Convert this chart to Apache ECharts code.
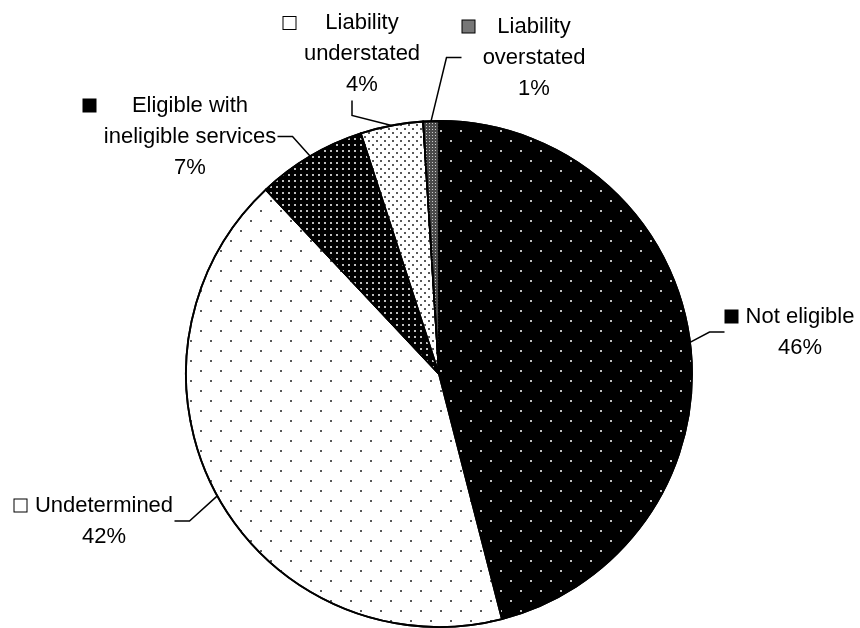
<!DOCTYPE html>
<html><head><meta charset="utf-8">
<script src="https://cdn.jsdelivr.net/npm/echarts@6/dist/echarts.min.js"></script>
<style>html,body{margin:0;padding:0;background:#fff}#c{width:860px;height:628px}</style>
</head><body><div id="c"></div>
<script>
// ---- data ----
const categories = ['Not eligible', 'Undetermined', 'Eligible with\nineligible services', 'Liability\nunderstated', 'Liability\noverstated'];
const values = [46, 42, 7, 4, 1];
// label block centres (text centre x, block middle y)
const labelCenters = [[800, 332], [104, 521], [190, 136.5], [362, 54], [534, 57.5]];

// ---- styles ----
const FONT = '"Liberation Sans", Arial, sans-serif';
const FS = 22, LH = 31;
const SQ = 12, GAP = 7;
const ctx = document.createElement('canvas').getContext('2d');
ctx.font = FS + 'px ' + FONT;
const tw = s => ctx.measureText(s).width;

const fills = ['#000000', '#ffffff', '#000000', '#ffffff', '#4a4a4a'];
const keyFills = ['#000000', '#ffffff', '#000000', '#ffffff', '#777777'];
const decals = [
  {symbol: 'circle', symbolSize: 1, color: '#ffffff', dashArrayX: [[2, 18], [0, 10, 2, 8]], dashArrayY: [2, 8], rotation: 0},
  {symbol: 'circle', symbolSize: 1, color: '#222222', dashArrayX: [[2, 18], [0, 10, 2, 8]], dashArrayY: [2, 8], rotation: 0},
  {symbol: 'circle', symbolSize: 1, color: '#ffffff', dashArrayX: [[2, 4]], dashArrayY: [2, 4], rotation: 0},
  {symbol: 'circle', symbolSize: 1, color: '#222222', dashArrayX: [[2, 6], [0, 4, 2, 2]], dashArrayY: [2, 2], rotation: 0},
  {symbol: 'rect', symbolSize: 1, color: '#cccccc', dashArrayX: [[1, 2]], dashArrayY: [1, 2], rotation: 0}
];

function linesOf(i) {
  return categories[i].split('\n').concat([values[i] + '%']);
}

const data = categories.map((name, i) => {
  const lines = linesOf(i);
  const W = Math.ceil(Math.max.apply(null, lines.map(tw))) + 2;
  return {
    name: name,
    value: values[i],
    itemStyle: {color: fills[i], decal: decals[i]},
    label: {
      rich: {
        t: {width: W, align: 'center', fontSize: FS, fontFamily: FONT, color: '#000', lineHeight: LH},
        sq: {width: SQ, height: SQ, backgroundColor: keyFills[i], borderColor: '#000', borderWidth: 1, lineHeight: LH},
        g: {width: GAP, lineHeight: LH},
        sp: {width: SQ + GAP, lineHeight: LH}
      }
    }
  };
});

const chart = echarts.init(document.getElementById('c'), null, {renderer: 'canvas'});
chart.setOption({
  animation: false,
  backgroundColor: '#fff',
  series: [{
    type: 'pie',
    center: [439, 374],
    radius: 253,
    startAngle: 90,
    clockwise: true,
    silent: true,
    avoidLabelOverlap: false,
    itemStyle: {borderColor: '#000', borderWidth: 1.8},
    emphasis: {disabled: true},
    label: {
      show: true,
      position: 'outside',
      fontFamily: FONT,
      fontSize: FS,
      lineHeight: LH,
      color: '#000',
      formatter: function (p) {
        return linesOf(p.dataIndex).map((l, k) => (k === 0 ? '{sq|}{g|}' : '{sp|}') + '{t|' + l + '}').join('\n');
      }
    },
    labelLine: {show: true, length: 15, length2: 15, smooth: false, lineStyle: {color: '#000', width: 1.5}},
    labelLayout: function (params) {
      const c = labelCenters[params.dataIndex];
      return {x: c[0] - (SQ + GAP) / 2, y: c[1], align: 'center', verticalAlign: 'middle'};
    },
    data: data
  }]
});
</script>
</body></html>
